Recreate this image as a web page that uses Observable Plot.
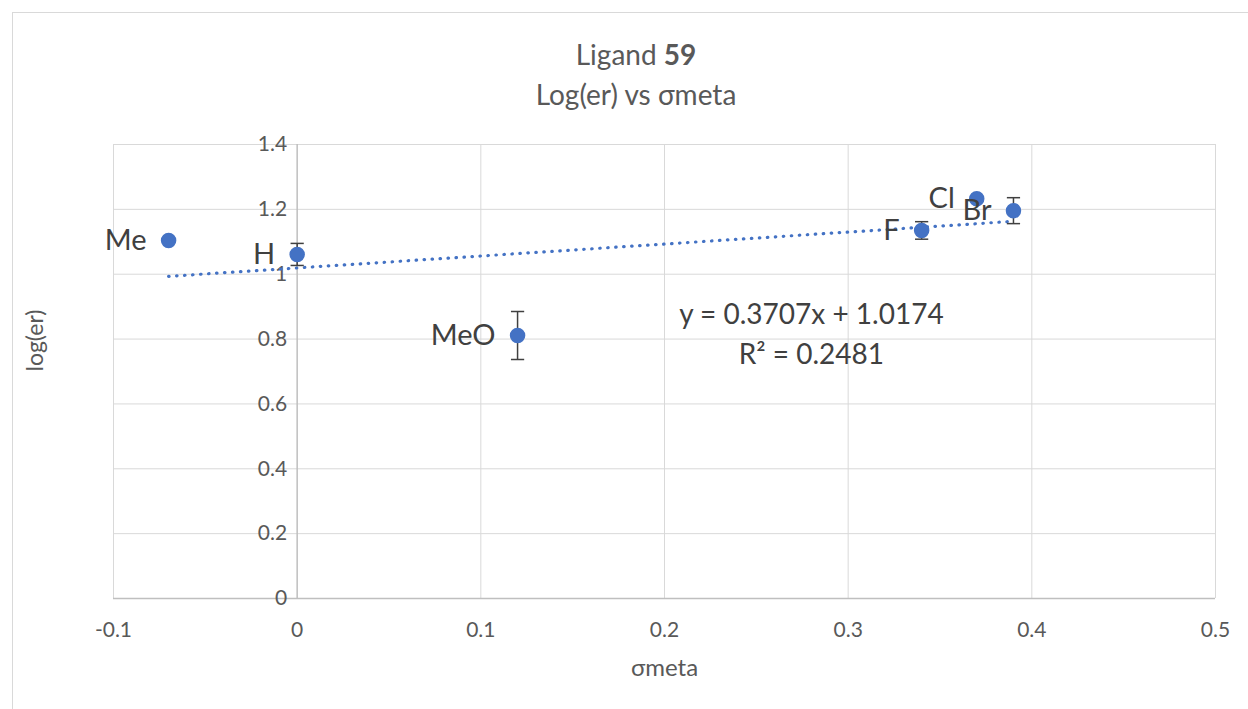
<!DOCTYPE html>
<html>
<head>
<meta charset="utf-8">
<script src="https://cdn.jsdelivr.net/npm/d3@7"></script>
<script src="https://cdn.jsdelivr.net/npm/@observablehq/plot@0.6"></script>
<style>
  body { margin: 0; background: #fff; font-family: Lato, "Open Sans", sans-serif; }
  #frame { position: absolute; left: 12px; top: 12px; width: 1300px; height: 760px; border: 1px solid #D9D9D9; box-sizing: border-box; }
  #title { position: absolute; left: 0; top: 34px; width: 1272px; text-align: center; color: #595959; font-size: 28px; line-height: 40px; }
  #chart { position: absolute; left: 0; top: 120px; }
</style>
</head>
<body>
<div id="frame"></div>
<div id="title"><div>Ligand <b>59</b></div><div>Log(er) vs σmeta</div></div>
<div id="chart"></div>
<script>
const labels = ["Me", "H", "MeO", "F", "Cl", "Br"];
const sigmaMeta = [-0.07, 0, 0.12, 0.34, 0.37, 0.39];
const logEr = [1.104, 1.061, 0.811, 1.135, 1.233, 1.196];
const errors = [0, 0.034, 0.074, 0.027, 0, 0.040];
const xTicks = [-0.1, 0, 0.1, 0.2, 0.3, 0.4, 0.5];
const yTicks = [0, 0.2, 0.4, 0.6, 0.8, 1, 1.2, 1.4];
const equationText = ["y = 0.3707x + 1.0174", "R² = 0.2481"];
const equationAnchor = { x: 0.28, y: [0.875, 0.752] };

const data = labels.map((l, i) => ({ label: l, x: sigmaMeta[i], y: logEr[i], e: errors[i] }));
const withErr = data.filter(d => d.e > 0);
const capHalf = 0.0036;
const eqData = equationText.map((t, i) => ({ t, x: equationAnchor.x, y: equationAnchor.y[i] }));

const chart = Plot.plot({
  width: 1248,
  height: 589,
  marginLeft: 113,
  marginRight: 33,
  marginTop: 24,
  marginBottom: 111,
  style: { fontFamily: "Lato, 'Open Sans', sans-serif", background: "transparent" },
  x: { domain: [-0.1, 0.5], axis: null },
  y: { domain: [0, 1.4], axis: null },
  marks: [
    Plot.ruleX(xTicks.filter(v => v !== 0), { stroke: "#D9D9D9", strokeWidth: 1 }),
    Plot.ruleY(yTicks.filter(v => v !== 0), { stroke: "#D9D9D9", strokeWidth: 1 }),
    Plot.ruleX([0], { stroke: "#BFBFBF", strokeWidth: 1.5 }),
    Plot.ruleY([0], { stroke: "#BFBFBF", strokeWidth: 1.5 }),
    Plot.text(xTicks, { x: d => d, y: 0, text: d => String(d), dy: 32, fontSize: 21, fill: "#595959" }),
    Plot.text(yTicks, { x: 0, y: d => d, text: d => String(d), dx: -10, textAnchor: "end", fontSize: 21, fill: "#595959" }),
    Plot.text(["σmeta"], { frameAnchor: "bottom", dy: 77, fontSize: 24, fill: "#595959" }),
    Plot.text(["log(er)"], { frameAnchor: "left", dx: -78, rotate: -90, fontSize: 23, fill: "#595959" }),
    Plot.linearRegressionY(data, { x: "x", y: "y", ci: 0, stroke: "#4472C4", strokeWidth: 3.2, strokeLinecap: "round", strokeDasharray: "0.5,7.5" }),
    Plot.link(withErr, { x1: "x", x2: "x", y1: d => d.y - d.e, y2: d => d.y + d.e, stroke: "#404040", strokeWidth: 1.5 }),
    Plot.link(withErr, { x1: d => d.x - capHalf, x2: d => d.x + capHalf, y1: d => d.y + d.e, y2: d => d.y + d.e, stroke: "#404040", strokeWidth: 1.5 }),
    Plot.link(withErr, { x1: d => d.x - capHalf, x2: d => d.x + capHalf, y1: d => d.y - d.e, y2: d => d.y - d.e, stroke: "#404040", strokeWidth: 1.5 }),
    Plot.dot(data, { x: "x", y: "y", r: 7, fill: "#4472C4", stroke: "#4472C4" }),
    Plot.text(data, { x: "x", y: "y", text: "label", textAnchor: "end", dx: -22, fontSize: 29, fill: "#404040" }),
    Plot.text(eqData, { x: "x", y: "y", text: "t", fontSize: 28, fill: "#404040" })
  ]
});
document.getElementById("chart").appendChild(chart);
</script>
</body>
</html>
